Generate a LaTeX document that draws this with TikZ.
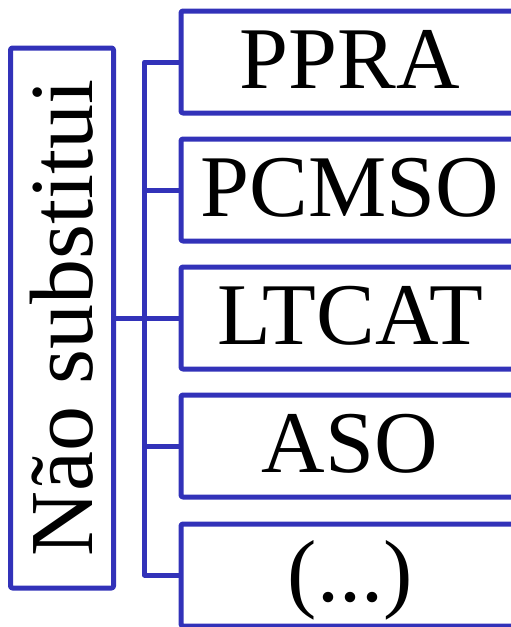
\documentclass[tikz,border=0pt]{standalone}
\usepackage{fontspec}
\setmainfont{Liberation Serif}
\definecolor{boxblue}{RGB}{50,50,185}
\begin{document}
\begin{tikzpicture}[x=1pt,y=-1pt,
  line width=5pt, line join=round,
  itembox/.style={draw=boxblue, rectangle, rounded corners=2pt, minimum width=338pt, minimum height=102pt,
    inner sep=0pt, font=\fontsize{88}{88}\selectfont, text height=60pt, text depth=8pt},
  sidebox/.style={draw=boxblue, rectangle, rounded corners=2pt, minimum width=103pt, minimum height=540pt, inner sep=0pt},
  link/.style={draw=boxblue, line width=5pt}]
\useasboundingbox (0,0) rectangle (511,627);
\node[sidebox] (side) at (62,318) {};
\node[rotate=90, font=\fontsize{90}{90}\selectfont, text height=60pt, text depth=8pt, inner sep=0pt] (sidetext) at (66,318) {Não substitui};
\node[itembox] (b1) at (350,62) {PPRA};
\node[itembox] (b2) at (350,190) {PCMSO};
\node[itembox] (b3) at (350,318) {LTCAT};
\node[itembox] (b4) at (350,446) {ASO};
\node[itembox] (b5) at (350,575) {(...)};
\draw[link] (b1.west) -- ++(-34,0) |- (b5.west);
\draw[link] (b2.west) -- ++(-34,0);
\draw[link] (b4.west) -- ++(-34,0);
\draw[link] (side.east) -- (b3.west);
\end{tikzpicture}
\end{document}
